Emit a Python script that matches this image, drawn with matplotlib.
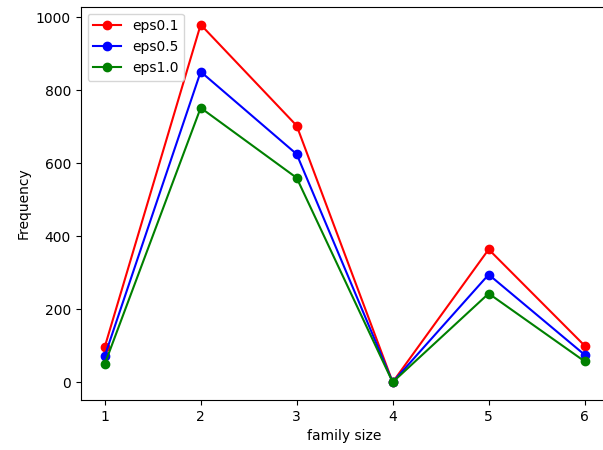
import matplotlib
matplotlib.use('Agg')
import matplotlib.pyplot as plt

family_size = [1, 2, 3, 4, 5, 6]
eps01 = [96, 980, 703, 0, 364, 100]
eps05 = [71, 851, 625, 0, 295, 75]
eps10 = [49, 752, 560, 0, 243, 57]

fig = plt.figure(figsize=(6.03, 4.5), dpi=100)
# axes runs a little past the right edge, like the cropped original
ax = fig.add_axes([0.1338, 0.111, 0.8756, 0.874])

ax.plot(family_size, eps01, 'r-o', label='eps0.1')
ax.plot(family_size, eps05, 'b-o', label='eps0.5')
ax.plot(family_size, eps10, 'g-o', label='eps1.0')

ax.set_xlabel('family size')
ax.set_ylabel('Frequency')
ax.legend(loc='upper left')

fig.savefig('out.png', dpi=100)
